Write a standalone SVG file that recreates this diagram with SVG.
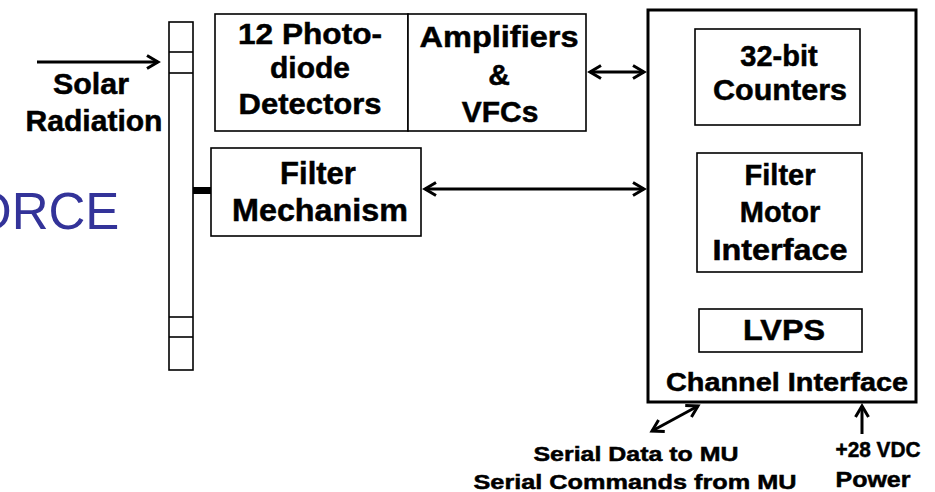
<svg xmlns="http://www.w3.org/2000/svg" width="935" height="492" viewBox="0 0 935 492">
  <style>
    .box { fill: #ffffff; stroke: #000000; stroke-width: 1.6; }
    .frame { fill: #ffffff; stroke: #000000; stroke-width: 3; }
    .lbl { font-family: "Liberation Sans", Arial, sans-serif; font-weight: bold; fill: #000000; stroke: #000000; stroke-width: 0.5; text-anchor: middle; }
    .wire { stroke: #000000; stroke-width: 3; fill: none; }
  </style>
  <defs>
    <marker id="head" viewBox="0 0 16 16" refX="13" refY="8" markerWidth="16" markerHeight="16" markerUnits="userSpaceOnUse" orient="auto-start-reverse">
      <path d="M2,1.5 L13,8 L2,14.5" fill="none" stroke="#000000" stroke-width="3"/>
    </marker>
  </defs>
  <rect width="935" height="492" fill="#ffffff"/>

  <!-- title text running off the left edge -->
  <text x="-28" y="229" font-family="'Liberation Sans', Arial, sans-serif" font-size="51" fill="#333399">ORCE</text>

  <!-- filter wheel strip -->
  <g id="filter-wheel">
    <rect class="box" x="169" y="22" width="24" height="348"/>
    <line x1="169" y1="52" x2="193" y2="52" stroke="#000" stroke-width="1.6"/>
    <line x1="169" y1="73" x2="193" y2="73" stroke="#000" stroke-width="1.6"/>
    <line x1="169" y1="317" x2="193" y2="317" stroke="#000" stroke-width="1.6"/>
    <line x1="169" y1="337" x2="193" y2="337" stroke="#000" stroke-width="1.6"/>
  </g>

  <g id="solar-radiation">
    <text class="lbl" x="91" y="94" font-size="29" textLength="76" lengthAdjust="spacingAndGlyphs">Solar</text>
    <text class="lbl" x="94" y="131" font-size="29" textLength="137" lengthAdjust="spacingAndGlyphs">Radiation</text>
  </g>

  <g id="detectors">
    <rect class="box" x="215" y="14" width="193" height="117"/>
    <text class="lbl" x="310" y="44" font-size="30" textLength="144" lengthAdjust="spacingAndGlyphs">12 Photo-</text>
    <text class="lbl" x="310" y="78" font-size="30">diode</text>
    <text class="lbl" x="310" y="114" font-size="30" textLength="143" lengthAdjust="spacingAndGlyphs">Detectors</text>
  </g>

  <g id="amplifiers">
    <rect class="box" x="408" y="14" width="178" height="117"/>
    <text class="lbl" x="499" y="47" font-size="30" textLength="159" lengthAdjust="spacingAndGlyphs">Amplifiers</text>
    <text class="lbl" x="499" y="85" font-size="30">&amp;</text>
    <text class="lbl" x="500" y="122" font-size="30">VFCs</text>
  </g>

  <g id="filter-mechanism">
    <rect class="box" x="211" y="148" width="210" height="88"/>
    <text class="lbl" x="318" y="184" font-size="31">Filter</text>
    <text class="lbl" x="320" y="221" font-size="31" textLength="176" lengthAdjust="spacingAndGlyphs">Mechanism</text>
  </g>

  <g id="channel-interface">
    <rect class="frame" x="648" y="10" width="268" height="392"/>
    <text class="lbl" x="787" y="391" font-size="25" textLength="242" lengthAdjust="spacingAndGlyphs">Channel Interface</text>
  </g>

  <g id="counters">
    <rect class="box" x="695" y="29" width="165" height="96"/>
    <text class="lbl" x="779" y="66" font-size="29">32-bit</text>
    <text class="lbl" x="780" y="100" font-size="29" textLength="134" lengthAdjust="spacingAndGlyphs">Counters</text>
  </g>

  <g id="filter-motor-interface">
    <rect class="box" x="697" y="153" width="165" height="119"/>
    <text class="lbl" x="780" y="185" font-size="29">Filter</text>
    <text class="lbl" x="780" y="222" font-size="29">Motor</text>
    <text class="lbl" x="780" y="260" font-size="29" textLength="135" lengthAdjust="spacingAndGlyphs">Interface</text>
  </g>

  <g id="lvps">
    <rect class="box" x="699" y="309" width="163" height="43"/>
    <text class="lbl" x="784" y="340" font-size="30" textLength="82" lengthAdjust="spacingAndGlyphs">LVPS</text>
  </g>

  <g id="serial-link">
    <text class="lbl" x="636" y="461" font-size="21" textLength="205" lengthAdjust="spacingAndGlyphs">Serial Data to MU</text>
    <text class="lbl" x="635" y="489" font-size="21" textLength="323" lengthAdjust="spacingAndGlyphs">Serial Commands from MU</text>
  </g>

  <g id="power">
    <text class="lbl" x="878" y="457" font-size="22" textLength="85" lengthAdjust="spacingAndGlyphs">+28 VDC</text>
    <text class="lbl" x="873" y="487" font-size="22" textLength="75" lengthAdjust="spacingAndGlyphs">Power</text>
  </g>

  <!-- connectors -->
  <g id="connectors">
    <line class="wire" x1="37" y1="62" x2="158" y2="62" marker-end="url(#head)"/>
    <rect x="193" y="187" width="18" height="7" fill="#000000"/>
    <line class="wire" x1="590" y1="72" x2="644" y2="72" marker-start="url(#head)" marker-end="url(#head)"/>
    <line class="wire" x1="425" y1="189" x2="644" y2="189" marker-start="url(#head)" marker-end="url(#head)"/>
    <line class="wire" x1="652" y1="431" x2="698" y2="406" marker-start="url(#head)" marker-end="url(#head)"/>
    <line class="wire" x1="862" y1="434" x2="862" y2="406" marker-end="url(#head)"/>
  </g>
</svg>
